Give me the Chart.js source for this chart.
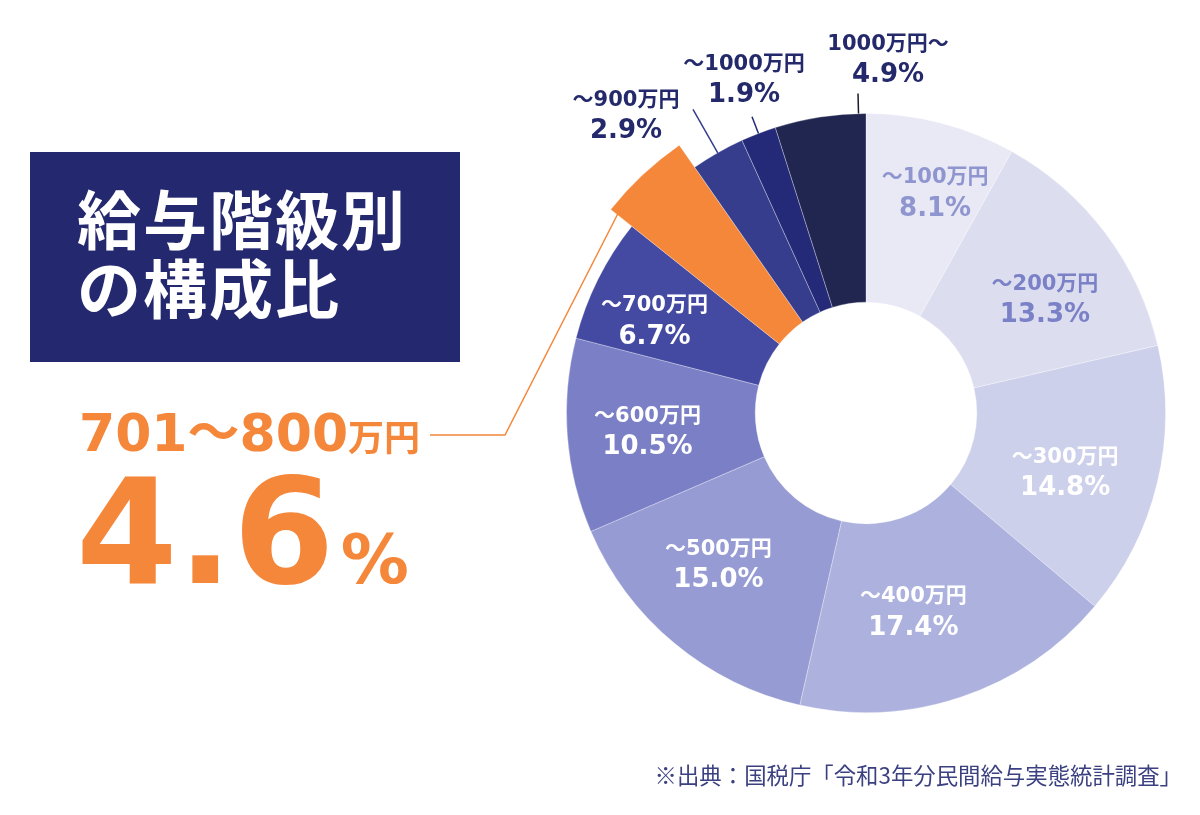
<!DOCTYPE html>
<html lang="ja">
<head>
<meta charset="utf-8">
<title>給与階級別の構成比</title>
<script src="https://cdn.jsdelivr.net/npm/chart.js@4.4.0/dist/chart.umd.min.js"></script>
<style>
  html, body { margin: 0; padding: 0; background: #fff; }
  #wrap { position: relative; width: 1200px; height: 815px; overflow: hidden; }
  #chartBox { position: absolute; left: 0; top: 0; width: 1200px; height: 815px; }
  .title-box { position: absolute; left: 30px; top: 152px; width: 430px; height: 210px; background: #23286f; }
  .title-box div {
    position: absolute; left: 47px; color: #fff; white-space: nowrap;
    font-family: "Noto Sans CJK JP", sans-serif; font-weight: 700;
    font-size: 64px; line-height: 1; letter-spacing: 2px;
  }
  .callout { position: absolute; color: #f5873a; font-family: "DejaVu Sans", "Noto Sans CJK JP", sans-serif; font-weight: 700; line-height: 1; white-space: nowrap; }
  .callout-range { left: 79px; top: 407px; font-size: 52px; }
  .callout-range span { font-size: 36px; font-family: "Noto Sans CJK JP", sans-serif; }
  .callout-value { left: 76px; top: 459px; font-size: 146px; }
  .callout-value span { font-size: 68px; margin-left: 6px; }
  .source {
    position: absolute; right: 18px; top: 763px; color: #3b4080; white-space: nowrap;
    font-family: "Noto Sans CJK JP", sans-serif; font-size: 22.4px; line-height: 1;
  }
</style>
</head>
<body>
<div id="wrap">
  <div id="chartBox"><canvas id="pie"></canvas></div>
  <div class="title-box">
    <div style="top:32px">給与階級別</div>
    <div style="top:101px">の構成比</div>
  </div>
  <div class="callout callout-range">701～800<span>万円</span></div>
  <div class="callout callout-value">4.6<span>%</span></div>
  <div class="source">※出典：国税庁「令和3年分民間給与実態統計調査」</div>
</div>
<script>
// 給与階級（国税庁 令和3年分）
const categories = ["～100万円", "～200万円", "～300万円", "～400万円", "～500万円", "～600万円",
  "～700万円", "701～800万円", "～900万円", "～1000万円", "1000万円～"];
const shares = [8.1, 13.3, 14.8, 17.4, 15.0, 10.5, 6.7, 4.6, 2.9, 1.9, 4.9];

const sliceColors = ["#e8e9f5", "#dcdef0", "#cdd0ea", "#adb1de", "#969bd3", "#7b80c6",
  "#444aa2", "#f5873a", "#363d8d", "#242a78", "#212650"];
const labelColors = ["#8f95cf", "#7b81c6", "#fff", "#fff", "#fff", "#fff", "#fff", null, "#23296b", "#23296b", "#23296b"];

const HIGHLIGHT = 7; // 701～800万円

// highlighted slice sticks out past the ring
const bumpSlice = {
  id: "bumpSlice",
  beforeDatasetsDraw(chart, args, opts) {
    const meta = chart.getDatasetMeta(0);
    const arc = meta.data[opts.index];
    if (!arc) return;
    const base = meta.controller.outerRadius || arc.outerRadius;
    arc.outerRadius = base + opts.extra;
  }
};

const sliceLabels = {
  id: "sliceLabels",
  afterDatasetsDraw(chart, args, opts) {
    const ctx = chart.ctx;
    const meta = chart.getDatasetMeta(0);
    const titleFont = 'bold 21px "DejaVu Sans", "Noto Sans CJK JP", sans-serif';
    const valueFont = 'bold 26px "DejaVu Sans", "Noto Sans CJK JP", sans-serif';
    ctx.save();
    ctx.textAlign = "center";
    ctx.textBaseline = "middle";

    meta.data.forEach((arc, i) => {
      const p = arc.getProps(["x", "y", "startAngle", "endAngle", "innerRadius", "outerRadius"], true);
      const mid = (p.startAngle + p.endAngle) / 2;
      let cx, cy;

      if (i === HIGHLIGHT) {
        // leader to the callout text on the left
        const a = p.startAngle + 0.035;
        const r = p.outerRadius - 6;
        ctx.strokeStyle = sliceColors[i];
        ctx.lineWidth = 1.5;
        ctx.beginPath();
        ctx.moveTo(opts.callout[0], opts.callout[1]);
        ctx.lineTo(opts.callout[2], opts.callout[1]);
        ctx.lineTo(p.x + Math.cos(a) * r, p.y + Math.sin(a) * r);
        ctx.stroke();
        return;
      }

      const out = opts.outside[i];
      if (out) {
        const a = out.at === "end" ? p.endAngle - 0.025 : mid;
        const x0 = p.x + Math.cos(a) * p.outerRadius;
        const y0 = p.y + Math.sin(a) * p.outerRadius;
        const x1 = p.x + Math.cos(a) * (p.outerRadius + out.len);
        const y1 = p.y + Math.sin(a) * (p.outerRadius + out.len);
        ctx.strokeStyle = out.line;
        ctx.lineWidth = 1.5;
        ctx.beginPath();
        ctx.moveTo(x0, y0);
        ctx.lineTo(x1, y1);
        ctx.stroke();
        cx = x1 + out.dx;
        cy = y1 + out.dy;
      } else {
        const r = (p.innerRadius + p.outerRadius) / 2 + 10;
        const n = opts.nudge[i] || [0, 0];
        cx = p.x + Math.cos(mid) * r + n[0];
        cy = p.y + Math.sin(mid) * r + n[1];
      }

      ctx.fillStyle = labelColors[i];
      ctx.font = titleFont;
      ctx.fillText(categories[i], cx, cy - 15);
      ctx.font = valueFont;
      ctx.fillText(shares[i].toFixed(1) + "%", cx, cy + 16);
    });
    ctx.restore();
  }
};

new Chart(document.getElementById("pie"), {
  type: "doughnut",
  data: {
    labels: categories,
    datasets: [{
      data: shares,
      backgroundColor: sliceColors,
      borderColor: "rgba(255, 255, 255, 0.3)",
      borderWidth: 1,
      hoverOffset: 0,
      hoverBorderWidth: 1,
      clip: false
    }]
  },
  options: {
    responsive: true,
    maintainAspectRatio: false,
    animation: false,
    events: [],
    cutout: "37%",
    rotation: 0,
    layout: { padding: { left: 566, right: 34, top: 113, bottom: 102 } },
    plugins: {
      legend: { display: false },
      tooltip: { enabled: false },
      bumpSlice: { index: HIGHLIGHT, extra: 27 },
      sliceLabels: {
        callout: [430, 435, 505],
        nudge: { 0: [15, -12], 1: [7, 16], 2: [-10, 9], 3: [-21, -5], 4: [-10, -14], 5: [-4, 2], 6: [-19, 4] },
        outside: {
          8: { len: 50, dx: -67, dy: 6, line: "#363d8d" },
          9: { len: 18, dx: -8, dy: -37, line: "#242a78" },
          10: { len: 20, dx: 30, dy: -34, line: "#1a1a2a", at: "end" }
        }
      }
    }
  },
  plugins: [bumpSlice, sliceLabels]
});
</script>
</body>
</html>
